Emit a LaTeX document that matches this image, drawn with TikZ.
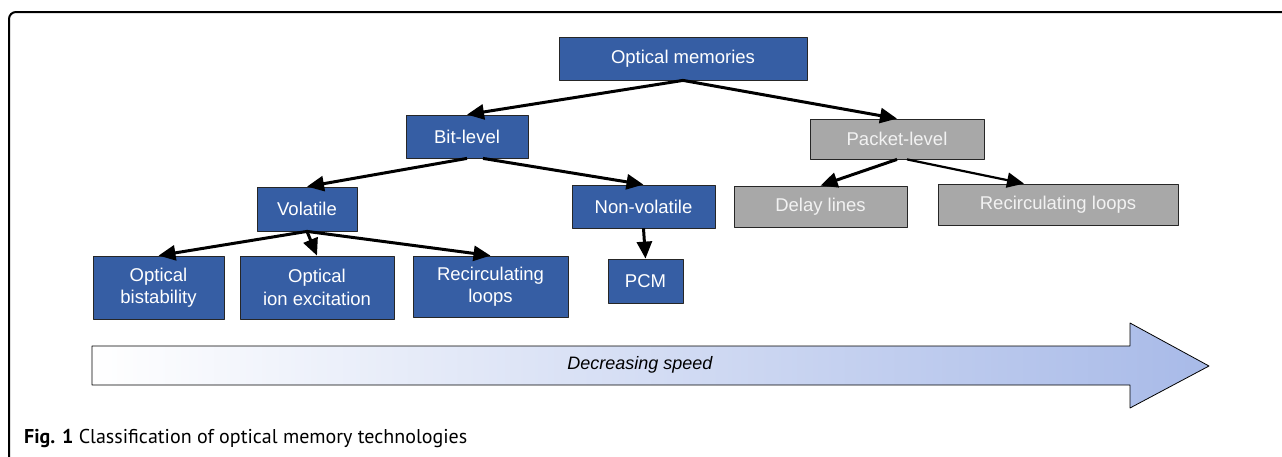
\documentclass[tikz,border=0pt]{standalone}
\usepackage{fontspec}
\setmainfont{Liberation Sans}
\newfontfamily\capfont{PT Sans}
\usetikzlibrary{arrows.meta}
\definecolor{boxblue}{RGB}{54,94,164}
\definecolor{boxgray}{RGB}{168,168,168}
\definecolor{arrowblue}{RGB}{168,186,232}
\begin{document}
\begin{tikzpicture}[x=1pt,y=-1pt,>={Triangle[length=17pt,width=15pt]},line join=round,
	blk/.style={draw=black!85,line width=0.8pt,fill=boxblue,text=white,inner sep=0pt,align=center,font=\fontsize{18.5}{22.5}\selectfont},
	gry/.style={blk,fill=boxgray,text=white!95!black},
	con/.style={->,line width=3pt}]
	\useasboundingbox (0,0) rectangle (1282,456);
	\draw[line width=2pt,rounded corners=7pt] (9,460) -- (9,12) -- (1290,12);
	% tree
	\node[blk,minimum width=248pt,minimum height=43pt] (om) at (683,58.5) {Optical memories};
	\node[blk,minimum width=122pt,minimum height=43pt] (bit) at (467,136.5) {Bit-level};
	\node[gry,minimum width=174pt,minimum height=40pt] (pkt) at (897,139) {Packet-level};
	\node[blk,minimum width=100pt,minimum height=44pt] (vol) at (307,209) {Volatile};
	\node[blk,minimum width=143pt,minimum height=43pt] (nvol) at (643.5,206.5) {Non-volatile};
	\node[gry,minimum width=173pt,minimum height=41pt] (delay) at (820.5,206.5) {Delay lines};
	\node[gry,minimum width=240pt,minimum height=41pt] (rloopb) at (1058,204.5) {Recirculating loops};
	\node[blk,minimum width=131pt,minimum height=63pt] (bist) at (158.5,287.5) {Optical\\bistability};
	\node[blk,minimum width=154pt,minimum height=63pt] (ion) at (317,287.5) {Optical\\ion excitation};
	\node[blk,minimum width=155pt,minimum height=61pt] (rloopa) at (490.5,286.5) {Recirculating\\loops};
	\node[blk,minimum width=75pt,minimum height=44pt] (pcm) at (645.5,281) {PCM};
	\draw[con] (om.south) -- (bit.north);
	\draw[con] (om.south) -- (pkt.north);
	\draw[con] (bit.south) -- (vol.north);
	\draw[con] ([xshift=16pt]bit.south) -- (nvol.north);
	\foreach \b in {bist,ion,rloopa} \draw[con] (vol.south) -- (\b.north);
	\draw[con] (nvol.south) -- (pcm.north);
	\draw[con] (pkt.south) -- (delay.north);
	\draw[con,line width=2.2pt] ([xshift=10pt]pkt.south) -- ([xshift=-34pt]rloopb.north);
	% speed arrow
	\draw[line width=0.8pt,left color=white,right color=arrowblue] (92,346) -- (1130,346) -- (1130,323) -- (1209,366) -- (1130,408) -- (1130,385) -- (92,385) -- cycle;
	\node[font=\itshape\fontsize{18}{20}\selectfont] (spd) at (640,365) {Decreasing speed};
	\node[anchor=base west,inner sep=0pt,font=\capfont\fontsize{20}{22}\selectfont] (cap) at (24,443) {\textbf{Fig. 1} Classification of optical memory technologies};
\end{tikzpicture}
\end{document}
